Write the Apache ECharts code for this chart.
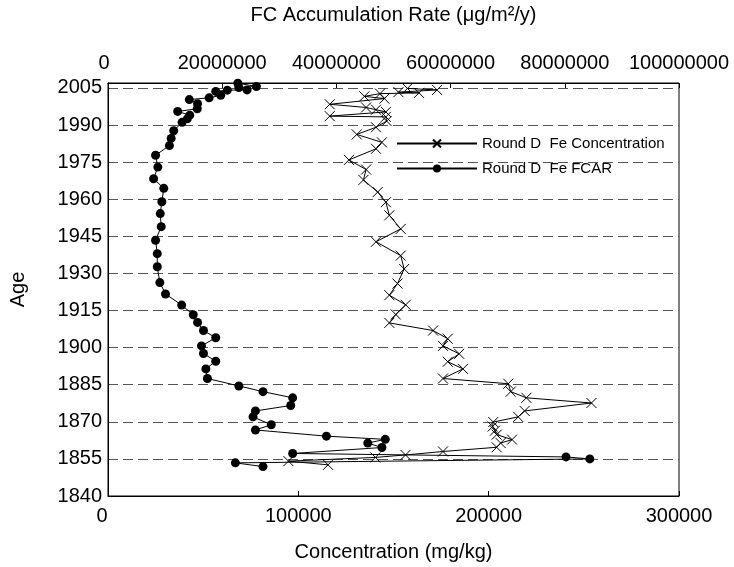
<!DOCTYPE html>
<html>
<head>
<meta charset="utf-8">
<script src="https://cdn.jsdelivr.net/npm/echarts@6/dist/echarts.min.js"></script>
<style>html,body{margin:0;padding:0;background:#fff}#c{width:734px;height:567px}</style>
</head>
<body>
<div id="c"></div>
<script>
// Round D Fe Concentration (mg/kg) by age (year)
const concYears = [2004.8,2004.2,2003.3,2003.0,2002.7,2001.6,2000.7,1998.4,1997.1,1996.2,1995.3,1993.6,1993.3,1991.6,1989.1,1986.2,1983.0,1980.4,1975.9,1972.0,1967.8,1962.9,1958.8,1953.5,1948.0,1942.8,1937.2,1931.8,1925.9,1921.2,1917.3,1913.4,1910.0,1906.9,1903.6,1900.7,1897.5,1894.3,1891.4,1887.5,1885.4,1882.2,1879.7,1877.6,1874.4,1872.0,1869.9,1868.1,1866.4,1864.8,1862.8,1861.4,1859.7,1858.0,1856.6,1855.6,1854.1,1852.6];
const concValues = [157300,172900,152600,163400,142900,134700,145200,116500,135600,140800,146000,116500,146000,146400,140800,130700,143900,140800,126600,135600,134200,141700,146000,147800,153800,140800,153800,155600,152100,147800,156400,151200,147800,170800,178500,176000,184500,178500,186500,176000,210300,211600,219800,254000,218900,215500,202400,202100,203300,204200,212300,206300,204200,176000,156300,140500,94800,115600];
// Round D Fe FCAR (ug/m2/y) by age (year)
const fcarYears = [2006.9,2005.6,2005.2,2004.2,2004.1,2003.6,2002.0,2001.0,2000.3,1998.6,1996.6,1995.5,1994.0,1992.5,1991.1,1987.7,1984.6,1981.7,1977.8,1973.0,1968.3,1964.4,1959.0,1954.2,1948.9,1943.4,1938.0,1932.7,1926.3,1921.7,1917.2,1913.3,1910.2,1906.9,1904.0,1900.7,1897.6,1894.5,1891.4,1887.5,1884.5,1882.2,1879.7,1876.6,1874.4,1872.0,1868.8,1866.7,1864.2,1862.9,1861.4,1859.6,1857.2,1855.8,1855.0,1853.4,1851.9];
const fcarValues = [22740000,25990000,22920000,24360000,20890000,18870000,19740000,17710000,14240000,15680000,15630000,12200000,14320000,13890000,12970000,11510000,11060000,10760000,8330000,8730000,7990000,9770000,9430000,9150000,9320000,8330000,8630000,8630000,9080000,10070000,12900000,14930000,15680000,16720000,18870000,16370000,16720000,18870000,17140000,17410000,22920000,27140000,32340000,32000000,25820000,25400000,28590000,25820000,38250000,48560000,45490000,47970000,32340000,80210000,84380000,22310000,27140000];
const seriesNames = ['Round D  Fe Concentration','Round D  Fe FCAR'];
const bottomTitle = 'Concentration (mg/kg)';
const topTitle = 'FC Accumulation Rate (\u03bcg/m\u00b2/y)';
const yTitle = 'Age';

const FONT = '"Liberation Sans", Arial, sans-serif';
const chart = echarts.init(document.getElementById('c'), null, {renderer: 'canvas'});
const crossPath = 'path://M0,0L10,10M10,0L0,10';
const plain = v => (v === 0 ? '{z|0}' : String(v));
const zeroRich = pad => ({z: {fontFamily: FONT, fontSize: 20, color: '#000', padding: [0, pad, 0, 0]}});
const axisCommon = {
  axisLine: {show: true, lineStyle: {color: '#000', width: 1}},
  axisTick: {show: true, inside: true, length: 5, lineStyle: {color: '#000'}},
  splitLine: {show: false}
};
chart.setOption({
  animation: false,
  backgroundColor: '#fff',
  grid: {left: 103, right: 55, top: 73, bottom: 64, show: true, borderColor: '#000', borderWidth: 1, backgroundColor: 'transparent'},
  legend: {
    orient: 'vertical', left: 391, top: 131, itemWidth: 80, itemHeight: 10, itemGap: 10,
    textStyle: {fontFamily: FONT, fontSize: 15, color: '#000'},
    data: seriesNames
  },
  xAxis: [
    Object.assign({}, axisCommon, {
      type: 'value', position: 'bottom', min: 0, max: 300000, interval: 100000,
      name: bottomTitle, nameLocation: 'middle', nameGap: 46,
      nameTextStyle: {fontFamily: FONT, fontSize: 20, color: '#000'},
      axisLabel: {color: '#000', fontFamily: FONT, fontSize: 20, margin: 10, formatter: plain, rich: zeroRich(12)}
    }),
    Object.assign({}, axisCommon, {
      type: 'value', position: 'top', min: 0, max: 100000000, interval: 20000000,
      name: topTitle, nameLocation: 'middle', nameGap: 58,
      nameTextStyle: {fontFamily: FONT, fontSize: 20, color: '#000'},
      axisLabel: {color: '#000', fontFamily: FONT, fontSize: 20, margin: 10, formatter: plain, rich: zeroRich(8)}
    })
  ],
  yAxis: {
    type: 'value', min: 1840, max: 2007, interval: 15,
    name: yTitle, nameLocation: 'middle', nameGap: 80, nameRotate: 90,
    nameTextStyle: {fontFamily: FONT, fontSize: 20, color: '#000'},
    axisLine: {show: true, lineStyle: {color: '#000', width: 1}},
    axisTick: {show: false},
    axisLabel: {color: '#000', fontFamily: FONT, fontSize: 20, margin: 6, showMaxLabel: false, formatter: v => String(v)},
    splitLine: {show: true, lineStyle: {color: '#555', width: 1, type: [10, 5]}}
  },
  series: [
    {
      name: seriesNames[0], type: 'line', xAxisIndex: 0,
      data: concValues.map((v, i) => [v, concYears[i]]),
      symbol: crossPath, symbolSize: 10,
      lineStyle: {color: '#000', width: 1},
      itemStyle: {color: 'rgba(0,0,0,0)', borderColor: '#000', borderWidth: 1},
      z: 3
    },
    {
      name: seriesNames[1], type: 'line', xAxisIndex: 1,
      data: fcarValues.map((v, i) => [v, fcarYears[i]]),
      symbol: 'circle', symbolSize: 9,
      lineStyle: {color: '#000', width: 1},
      itemStyle: {color: '#000', borderColor: '#000', borderWidth: 0},
      z: 4
    }
  ]
});
</script>
</body>
</html>
